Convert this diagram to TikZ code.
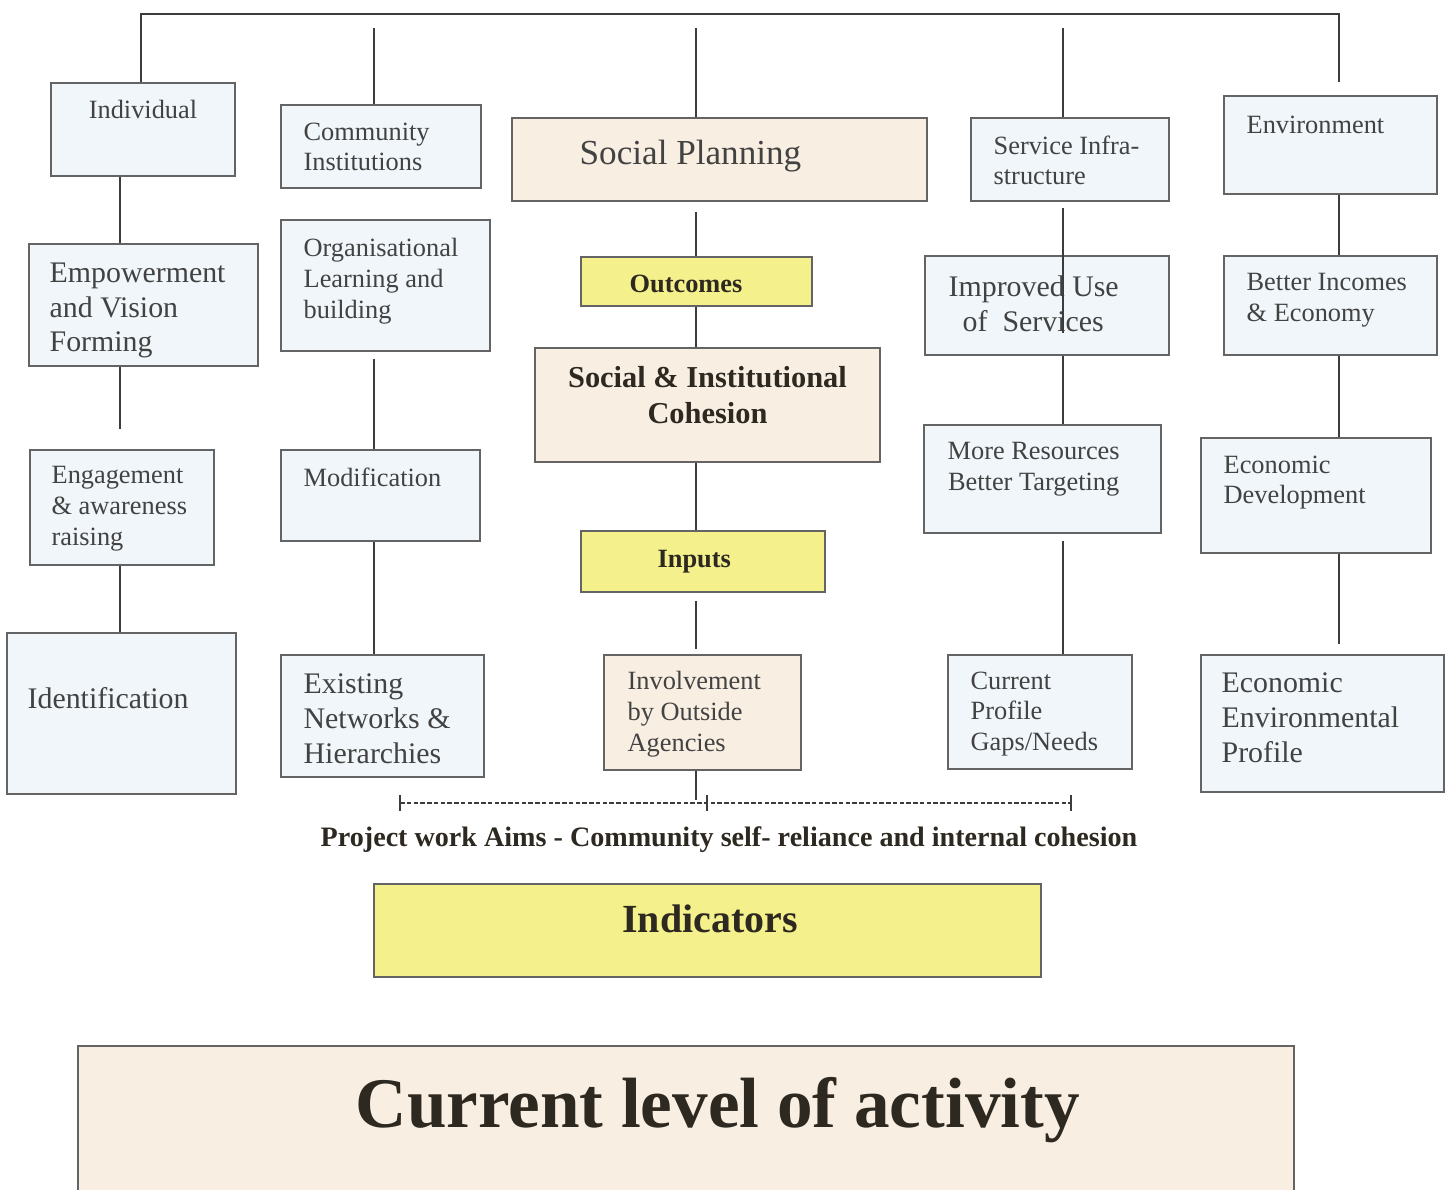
\documentclass[tikz,border=0pt]{standalone}
\usepackage{fontspec}
\setmainfont{Liberation Serif}
\usetikzlibrary{fit}
\usetikzlibrary{positioning}

\definecolor{boxblue}{RGB}{240,246,250}
\definecolor{boxbeige}{RGB}{248,238,226}
\definecolor{boxyellow}{RGB}{244,240,140}
\definecolor{linegray}{RGB}{60,60,60}
\definecolor{framegray}{RGB}{100,100,100}
\definecolor{textgray}{RGB}{66,66,66}
\definecolor{textdark}{RGB}{45,40,32}

\tikzset{
  bluebox/.style= {
    rectangle,
    draw = framegray,
    fill = boxblue,
    line width = 0.8pt,
    inner sep = 0pt
  },
  beigebox/.style= {bluebox, fill = boxbeige},
  yellowbox/.style= {bluebox, fill = boxyellow},
  boxtext/.style= {
    inner sep = 0pt,
    align = left,
    text = textgray,
    font = \fontsize{15}{17.4}\selectfont
  },
  bigtext/.style= {boxtext, font = \fontsize{17}{19.8}\selectfont},
  headtext/.style= {
    inner sep = 0pt,
    align = center,
    text = textdark,
    font = \bfseries\fontsize{15}{18}\selectfont
  },
  link/.style= {draw = linegray, line width = 1.1pt},
  bracket/.style= {draw = linegray, line width = 0.8pt, dash pattern = on 0.9mm off 0.45mm},
  tick/.style= {draw = linegray, line width = 1.4pt}
}

\begin{document}
\begin{tikzpicture}[x=0.2mm, y=-0.2mm]
  \useasboundingbox (0,0) rectangle (1445,1190);

  % column lines
  \coordinate (topL) at (141,14);
  \coordinate (topR) at (1339,14);
  \coordinate (c1) at (120,0);
  \coordinate (c2) at (374,28);
  \coordinate (c3) at (696,28);
  \coordinate (c4) at (1063,28);

  % individual
  \node[bluebox, fit={(51,83) (235,176)}] (indiv) {};
  \node[boxtext, below=3.6mm of indiv.north] (indivlab) {Individual};
  \node[bluebox, fit={(29,244) (258,366)}] (emp) {};
  \node[bigtext, below right=3.8mm and 4.2mm of emp.north west] (emplab) {Empowerment\\and Vision\\Forming};
  \node[bluebox, fit={(30,450) (214,565)}] (eng) {};
  \node[boxtext, below right=3.4mm and 4.4mm of eng.north west] (englab) {Engagement\\\& awareness\\raising};
  \node[bluebox, fit={(7,633) (236,794)}] (ident) {};
  \node[bigtext, below right=11mm and 4.2mm of ident.north west] (identlab) {Identification};

  % community institutions
  \node[bluebox, fit={(281,105) (481,188)}] (comm) {};
  \node[boxtext, below right=3.6mm and 4.6mm of comm.north west] (commlab) {Community\\Institutions};
  \node[bluebox, fit={(281,220) (490,351)}] (org) {};
  \node[boxtext, below right=3.8mm and 4.6mm of org.north west] (orglab) {Organisational\\Learning and\\building};
  \node[bluebox, fit={(281,450) (480,541)}] (mod) {};
  \node[boxtext, below right=3.6mm and 4.6mm of mod.north west] (modlab) {Modification};
  \node[bluebox, fit={(281,655) (484,777)}] (exist) {};
  \node[bigtext, below right=3.8mm and 4.6mm of exist.north west] (existlab) {Existing\\Networks \&\\Hierarchies};

  % social planning
  \node[beigebox, fit={(512,118) (927,201)}] (plan) {};
  \node[boxtext, font=\fontsize{20}{24}\selectfont, below right=4.4mm and 13.6mm of plan.north west] (planlab) {Social Planning};
  \node[yellowbox, fit={(581,257) (812,306)}] (outc) {};
  \node[headtext, below right=3.6mm and 9.8mm of outc.north west] (outclab) {Outcomes};
  \node[beigebox, fit={(535,348) (880,462)}] (cohes) {};
  \node[headtext, font=\bfseries\fontsize{17.3}{20.4}\selectfont, below=3.8mm of cohes.north] (coheslab) {Social \& Institutional\\Cohesion};
  \node[yellowbox, fit={(581,531) (825,592)}] (inp) {};
  \node[headtext, below right=4mm and 15.4mm of inp.north west] (inplab) {Inputs};
  \node[beigebox, fit={(604,655) (801,770)}] (invol) {};
  \node[boxtext, below right=3.4mm and 4.8mm of invol.north west] (invollab) {Involvement\\by Outside\\Agencies};

  % service infrastructure
  \node[bluebox, fit={(971,118) (1169,201)}] (infra) {};
  \node[boxtext, below right=3.6mm and 4.6mm of infra.north west] (infralab) {Service Infra-\\structure};
  \node[bluebox, fit={(925,256) (1169,355)}] (impr) {};
  \node[bigtext, below right=4mm and 4.8mm of impr.north west] (imprlab) {Improved Use\\\hspace*{8pt}of\ \ Services};
  \node[bluebox, fit={(924,425) (1161,533)}] (res) {};
  \node[boxtext, align=center, below right=3.6mm and 4.8mm of res.north west] (reslab) {More Resources\\Better Targeting};
  \node[bluebox, fit={(948,655) (1132,769)}] (curr) {};
  \node[boxtext, below right=3.4mm and 4.6mm of curr.north west] (currlab) {Current\\Profile\\Gaps/Needs};

  % environment
  \node[bluebox, fit={(1224,96) (1437,194)}] (env) {};
  \node[boxtext, below right=4mm and 4.6mm of env.north west] (envlab) {Environment};
  \node[bluebox, fit={(1224,256) (1437,355)}] (inc) {};
  \node[boxtext, below right=3.6mm and 4.6mm of inc.north west] (inclab) {Better Incomes\\\& Economy};
  \node[bluebox, fit={(1201,438) (1431,553)}] (ecodev) {};
  \node[boxtext, below right=3.6mm and 4.6mm of ecodev.north west] (ecodevlab) {Economic\\Development};
  \node[bluebox, fit={(1201,655) (1444,792)}] (ecoenv) {};
  \node[bigtext, below right=3.6mm and 4.2mm of ecoenv.north west] (ecoenvlab) {Economic\\Environmental\\Profile};

  % aims bracket
  \coordinate (brL) at (400,803);
  \coordinate (brM) at (707,803);
  \coordinate (brR) at (1071,803);
  \draw[bracket] (brL) -- (brR);
  \foreach \b in {brL,brM,brR}
    \draw[tick] ([yshift=1.6mm]\b) -- ([yshift=-1.6mm]\b);
  \node[headtext, font=\bfseries\fontsize{16}{19}\selectfont, below=4.6mm of brM, xshift=4.4mm] (aims) {Project work Aims - Community self- reliance and internal cohesion};

  % indicators and activity
  \node[yellowbox, fit={(374,884) (1041,977)}] (indic) {};
  \node[headtext, font=\bfseries\fontsize{22.7}{26}\selectfont, below=4.2mm of indic.north, xshift=0.5mm] (indiclab) {Indicators};
  \node[beigebox, fit={(78,1046) (1294,1210)}] (level) {};
  \node[headtext, font=\bfseries\fontsize{40.5}{46}\selectfont, below right=6.4mm and 55.6mm of level.north west] (levellab) {Current level of activity};

  % links
  \draw[link, shorten >=2.6mm] (indiv.north -| topL) -- (topL) -- (topR) -- (env.north -| topR);
  \draw[link] (c2) -- (comm.north -| c2);
  \draw[link] (c3) -- (plan.north -| c3);
  \draw[link] (c4) -- (infra.north -| c4);

  \draw[link] (indiv.south -| c1) -- (emp.north -| c1);
  \draw[link, shorten >=4mm] (emp.south -| c1) -- (eng.north -| c1);
  \draw[link] (eng.south -| c1) -- (ident.north -| c1);

  \draw[link, shorten <=1.4mm] (org.south -| c2) -- (mod.north -| c2);
  \draw[link] (mod.south -| c2) -- (exist.north -| c2);

  \draw[link, shorten <=2mm] (plan.south -| c3) -- (outc.north -| c3);
  \draw[link] (outc.south -| c3) -- (cohes.north -| c3);
  \draw[link] (cohes.south -| c3) -- (inp.north -| c3);
  \draw[link, shorten <=1.6mm, shorten >=1mm] (inp.south -| c3) -- (invol.north -| c3);
  \draw[link, shorten >=0.6mm] (invol.south -| c3) -- (brM -| c3);

  \coordinate (imprin) at (1063,333);
  \draw[link, shorten <=1.2mm] (infra.south -| c4) -- (imprin);
  \draw[link] (impr.south -| c4) -- (res.north -| c4);
  \draw[link, shorten <=1.4mm] (res.south -| c4) -- (curr.north -| c4);

  \draw[link] (env.south -| topR) -- (inc.north -| topR);
  \draw[link] (inc.south -| topR) -- (ecodev.north -| topR);
  \draw[link, shorten >=2mm] (ecodev.south -| topR) -- (ecoenv.north -| topR);

\end{tikzpicture}
\end{document}
